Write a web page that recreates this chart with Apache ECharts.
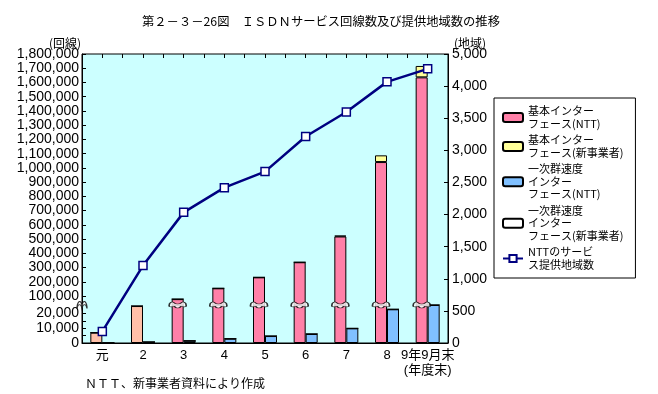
<!DOCTYPE html>
<html><head><meta charset="utf-8">
<script src="https://cdn.jsdelivr.net/npm/echarts@6/dist/echarts.min.js"></script>
<style>html,body{margin:0;padding:0;background:#fff}#c{width:658px;height:394px}</style>
</head><body><div id="c"></div>
<script>
// ---- data ----
const categories = ['元', '2', '3', '4', '5', '6', '7', '8', '9年9月末\n(年度末)'];
const basicNTT   = [7000, 25000, 78000, 154000, 231000, 337000, 518000, 1041000, 1636000];
const basicNew   = [0, 0, 0, 0, 0, 0, 6000, 47000, 80000];
const primaryNTT = [0, 700, 1500, 2900, 4700, 6100, 9900, 22800, 25700];
const primaryNew = [0, 0, 0, 0, 0, 0, 0, 0, 0];
const serviceAreas = [180, 1206, 2034, 2419, 2669, 3216, 3597, 4066, 4269];
const lowerTickValues  = [0, 5000, 10000, 15000, 20000];
const lowerLabelValues = [0, 10000, 20000];
const upperTickValues  = [100000, 200000, 300000, 400000, 500000, 600000, 700000, 800000, 900000,
  1000000, 1100000, 1200000, 1300000, 1400000, 1500000, 1600000, 1700000, 1800000];
const seriesNames = ['基本インター\nフェース(NTT)', '基本インター\nフェース(新事業者)',
  '一次群速度\nインター\nフェース(NTT)', '一次群速度\nインター\nフェース(新事業者)', 'NTTのサービ\nス提供地域数'];

// ---- layout (broken left axis: lower part and upper part) ----
const lowerMax = 25700, upperMin = 36800, upperMax = 1800000;
const rightMax = 4500;
const FONT = '"Liberation Sans","Noto Sans CJK JP",sans-serif';
const JFONT = '"Noto Sans CJK JP",sans-serif';
const C = {pink:'#FF80A8', salmon:'#FFC0A8', yellow:'#FFFF99', blue:'#80C0FF', white:'#FFFFFF', navy:'#000080'};
const fmt = v => String(v).replace(/\B(?=(\d{3})+(?!\d))/g, ',');
const breakPath = 'path://M0,4 C0,1 3,0 5,2 C6,3 10,3 11,2 C13,0 16,1 16,4 L16,5 C14,6 12,5 11,5 C10,7 6,7 5,5 C4,5 2,6 0,5 Z';
const axisBreakPath = 'path://M0,4 C1,0 4,0 5,3 C6,0 9,0 10,4 L10,5 C9,2 6,2 5,5 C4,2 1,2 0,5 Z';

const gridL = 82, gridR = 658 - 448;
const chart = echarts.init(document.getElementById('c'), null, {renderer:'canvas'});
const border = {borderColor:'#000', borderWidth:1};

chart.setOption({
  animation:false,
  backgroundColor:'#fff',
  title:[
    {text:'第２－３－26図　ＩＳＤＮサービス回線数及び提供地域数の推移', left:137, top:10,
     textStyle:{fontFamily:JFONT, fontSize:12.3, fontWeight:'normal', color:'#000'}},
    {text:'(回線)', left:44, top:32, textStyle:{fontFamily:JFONT, fontSize:12, fontWeight:'normal', color:'#000'}},
    {text:'(地域)', left:449, top:32, textStyle:{fontFamily:JFONT, fontSize:12, fontWeight:'normal', color:'#000'}},
    {text:'ＮＴＴ、新事業者資料により作成', left:80, top:372, textStyle:{fontFamily:JFONT, fontSize:12, fontWeight:'normal', color:'#000'}}
  ],
  legend:{
    data:seriesNames, orient:'vertical', left:494, top:98,
    padding:[7, 12, 7, 8], itemGap:4, itemWidth:20, itemHeight:9,
    backgroundColor:'#fff', borderColor:'#000', borderWidth:1, borderRadius:0,
    textStyle:{fontFamily:JFONT, fontSize:11, lineHeight:12.5, color:'#000'},
    selectedMode:false
  },
  grid:[
    {left:gridL, right:gridR, top:54, bottom:51, show:true, backgroundColor:'#CCFFFF', borderColor:'#000', borderWidth:1},
    {left:gridL, right:gridR, top:305, bottom:51},
    {left:gridL, right:gridR, top:54, bottom:394 - 305}
  ],
  xAxis:[
    {type:'category', gridIndex:0, data:categories,
     axisLine:{lineStyle:{color:'#000', width:1}}, axisTick:{show:false},
     axisLabel:{color:'#000', fontFamily:FONT, fontSize:13, margin:5, lineHeight:15, interval:0}},
    {type:'category', gridIndex:0, data:Array.from({length:categories.length * 2}, (_, i) => i),
     axisLine:{show:false}, axisLabel:{show:false},
     axisTick:{show:true, inside:true, length:4, lineStyle:{color:'#000'}}},
    {type:'category', gridIndex:1, data:categories, show:false},
    {type:'category', gridIndex:2, data:categories, show:false}
  ],
  yAxis:[
    {type:'value', gridIndex:0, position:'right', min:0, max:rightMax, interval:500,
     axisLine:{show:true, lineStyle:{color:'#000'}}, splitLine:{show:false},
     axisTick:{show:true, inside:true, length:4, lineStyle:{color:'#000'}},
     axisLabel:{color:'#000', fontFamily:FONT, fontSize:14, margin:4,
       formatter:v => v === rightMax ? '5,000' : fmt(v)}},
    {type:'value', gridIndex:1, position:'left', min:0, max:lowerMax,
     axisLine:{show:true, lineStyle:{color:'#000'}}, splitLine:{show:false},
     axisTick:{show:true, inside:true, length:4, customValues:lowerTickValues, lineStyle:{color:'#000'}},
     axisLabel:{color:'#000', fontFamily:FONT, fontSize:14, margin:3, customValues:lowerLabelValues, formatter:fmt}},
    {type:'value', gridIndex:2, position:'left', min:upperMin, max:upperMax,
     axisLine:{show:true, lineStyle:{color:'#000'}}, splitLine:{show:false},
     axisTick:{show:true, inside:true, length:4, customValues:upperTickValues, lineStyle:{color:'#000'}},
     axisLabel:{color:'#000', fontFamily:FONT, fontSize:14, margin:3, customValues:upperTickValues, formatter:fmt}}
  ],
  series:[
    // lower part of the broken axis
    {name:seriesNames[0], type:'bar', xAxisIndex:2, yAxisIndex:1, stack:'b', barWidth:12, barGap:'0%',
     itemStyle:Object.assign({color:C.pink}, border),
     data:basicNTT.map(v => v <= lowerMax ? {value:v, itemStyle:{color:C.salmon}} : v)},
    {name:seriesNames[1], type:'bar', xAxisIndex:2, yAxisIndex:1, stack:'b', barWidth:12, barGap:'0%',
     itemStyle:Object.assign({color:C.yellow}, border), data:basicNew},
    {name:seriesNames[2], type:'bar', xAxisIndex:2, yAxisIndex:1, stack:'p', barWidth:12, barGap:'0%',
     itemStyle:Object.assign({color:C.blue}, border), data:primaryNTT},
    {name:seriesNames[3], type:'bar', xAxisIndex:2, yAxisIndex:1, stack:'p', barWidth:12, barGap:'0%',
     itemStyle:Object.assign({color:C.white}, border), data:primaryNew},
    // upper part of the broken axis
    {name:seriesNames[0], type:'bar', xAxisIndex:3, yAxisIndex:2, stack:'b2', barWidth:12, barGap:'0%',
     itemStyle:Object.assign({color:C.pink}, border),
     data:basicNTT.map(v => v > lowerMax ? v : null)},
    {name:seriesNames[1], type:'bar', xAxisIndex:3, yAxisIndex:2, stack:'b2', barWidth:12, barGap:'0%',
     itemStyle:Object.assign({color:C.yellow}, border),
     data:basicNew.map((v, i) => basicNTT[i] > lowerMax ? v : null)},
    {name:'_pad', type:'bar', xAxisIndex:3, yAxisIndex:2, stack:'p2', barWidth:12, barGap:'0%',
     data:primaryNTT.map(() => null)},
    // break marks on the bars and on the axis
    {name:'_breaks', type:'scatter', xAxisIndex:2, yAxisIndex:1, clip:false, z:4, silent:true,
     symbol:breakPath, symbolSize:[17, 6], symbolOffset:[-6, 0],
     itemStyle:{color:'#fff', borderColor:'#000', borderWidth:1},
     data:basicNTT.map((v, i) => v > lowerMax ? [i, lowerMax] : null).filter(d => d)},
    {name:'_axisbreak', type:'scatter', xAxisIndex:2, yAxisIndex:1, clip:false, z:4, silent:true,
     symbol:axisBreakPath, symbolSize:[10, 7], symbolOffset:[-(448 - 82) / categories.length / 2, 0],
     itemStyle:{color:'#fff', borderColor:'#000', borderWidth:1},
     data:[[0, lowerMax]]},
    // line on the right axis
    {name:seriesNames[4], type:'line', xAxisIndex:0, yAxisIndex:0, z:5,
     symbol:'rect', symbolSize:8, showAllSymbol:true,
     lineStyle:{color:C.navy, width:2.5},
     itemStyle:{color:'#fff', borderColor:C.navy, borderWidth:1.5},
     data:serviceAreas}
  ]
});
</script></body></html>
